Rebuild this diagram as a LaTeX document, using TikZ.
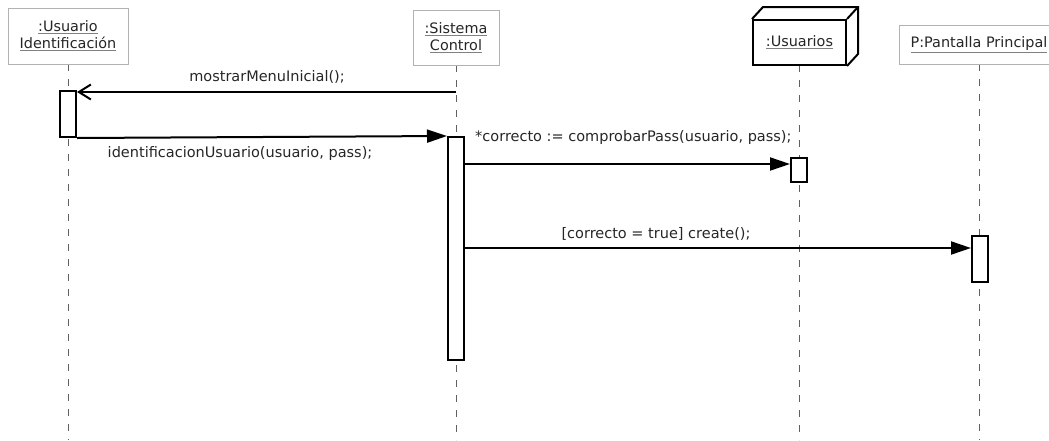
\documentclass[tikz,border=0pt]{standalone}
\usepackage{fontspec}
\setmainfont{DejaVu Sans}
\usetikzlibrary{arrows.meta,calc}
\newcommand\uln[1]{{\color{gray}\underline{\color{black!85}#1}}}
\newcommand\objfont{\fontsize{14.4}{17}\selectfont\lineskiplimit-20pt\relax}
\tikzset{
  obj/.style={draw=gray!60, line width=1pt, fill=white, inner sep=0pt, align=center, font=\objfont},
  lifeline/.style={draw=gray!75!black, line width=1pt, dash pattern=on 7pt off 8pt},
  act/.style={draw=black, line width=2pt, fill=white, minimum width=16pt, inner sep=0pt},
  sync/.style={draw=black, line width=2pt, -{Triangle[length=20pt,width=13pt]}},
  async/.style={draw=black, line width=2pt, -{Straight Barb[length=12pt,width=15pt]}},
  msg/.style={font=\fontsize{14.5}{16}\selectfont, inner sep=0pt, text=black!85},
}
\begin{document}
\begin{tikzpicture}[x=1pt,y=-1pt]
\useasboundingbox (0,0) rectangle (1049,440);
\clip (0,0) rectangle (1049,440);
% lifeline ends
\coordinate (e1) at (68,440);
\coordinate (e2) at (456,440);
\coordinate (e3) at (799,440);
\coordinate (e4) at (979,440);
\coordinate (s1) at (68,64);
\coordinate (s2) at (456,65);
\coordinate (s3) at (799,65);
\coordinate (s4) at (979,64);
\draw[lifeline] (s1) -- (e1);
\draw[lifeline] (s2) -- (e2);
\draw[lifeline] (s3) -- (e3);
\draw[lifeline] (s4) -- (e4);
% object boxes
\node[obj, minimum width=120pt, minimum height=56pt] (ui) at (68,36) {\uln{:Usuario}\\\uln{Identificación}};
\node[obj, minimum width=86pt, minimum height=55pt] (sc) at (456,37.5) {\uln{:Sistema}\\\uln{Control}};
\node[obj, draw=black, line width=2pt, minimum width=93pt, minimum height=45pt] (us) at (799.5,42.5) {\uln{:Usuarios}};
\node[obj, minimum width=160pt, minimum height=39pt] (pp) at (979,44.5) {\uln{P:Pantalla Principal}};
% 3D depth of :Usuarios
\draw[line width=2pt, line join=miter] (us.north west) -- ++(11,-12) -- ($(us.north east)+(11,-12)$) coordinate (usb) -- ($(us.south east)+(11,-12)$) -- (us.south east);
\draw[line width=2pt] (us.north east) -- (usb);
% activations
\node[act, minimum height=46pt] (a1) at (68,114) {};
\node[act, minimum height=223pt] (a2) at (456,248.5) {};
\node[act, minimum height=24pt] (a3) at (799,170) {};
\node[act, minimum height=46pt] (a4) at (980,259) {};
% messages
\coordinate (m1) at (456,92);
\draw[async] (m1) -- (m1 -| a1.east);
\node[msg] (l1) at (267,77) {mostrarMenuInicial();};
\draw[sync] (a1.south east) -- (a2.north west);
\node[msg] (l2) at (240,153) {identificacionUsuario(usuario, pass);};
\coordinate (m3) at (0,164);
\draw[sync] (a2.east |- m3) -- (a3.west |- m3);
\node[msg, anchor=west] (l3) at (475,137) {*correcto := comprobarPass(usuario, pass);};
\coordinate (m4) at (0,248);
\draw[sync] (a2.east |- m4) -- (a4.west |- m4);
\node[msg] (l4) at (656,234) {[correcto = true] create();};
\end{tikzpicture}
\end{document}
